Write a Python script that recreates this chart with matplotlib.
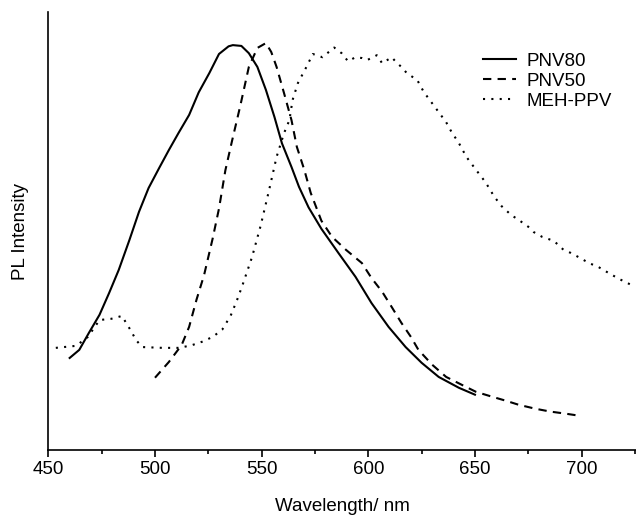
"""
PL spectra of PNV80, PNV50 and MEH-PPV.

- Intensities are read off the published figure (arbitrary units,
  PNV80 peak set to 1.0)
- Saves the figure as out.png
"""

import matplotlib

matplotlib.use("Agg")
import matplotlib.pyplot as plt
from matplotlib.ticker import MultipleLocator

# PNV80 (solid)
pnv80_wl = [460, 464.5, 469, 474, 478.5, 483, 488, 492.5, 497, 502, 506.5, 511,
            516, 520.5, 525.5, 530, 534.5, 536.5, 540.5, 544, 548, 552, 556,
            559.5, 564, 567.5, 572, 578, 586, 594, 601.5, 609.5, 617.5, 625,
            633, 642.5, 650]
pnv80_int = [0.225, 0.245, 0.287, 0.332, 0.386, 0.443, 0.517, 0.587, 0.646,
             0.696, 0.740, 0.782, 0.827, 0.883, 0.931, 0.978, 0.997, 1.0,
             0.998, 0.98, 0.946, 0.889, 0.822, 0.757, 0.698, 0.649, 0.598,
             0.545, 0.485, 0.426, 0.361, 0.302, 0.252, 0.213, 0.178, 0.151,
             0.134]

# PNV50 (dashed)
pnv50_wl = [500, 506.5, 512.5, 516, 519.5, 523, 527, 530, 533, 536, 540, 544,
            548, 552, 554.5, 557, 560.5, 564, 566.5, 570, 573, 578, 583, 589.5,
            597, 601.5, 606.5, 611, 615.5, 620, 623.5, 630, 636.5, 644, 650.5,
            658, 664.5, 670.5, 678.5, 685.5, 692.5, 700]
pnv50_int = [0.176, 0.215, 0.257, 0.302, 0.37, 0.43, 0.52, 0.595, 0.69, 0.76,
             0.85, 0.946, 0.993, 1.005, 0.983, 0.946, 0.881, 0.814, 0.748,
             0.691, 0.634, 0.565, 0.525, 0.493, 0.460, 0.423, 0.389, 0.351,
             0.312, 0.277, 0.245, 0.208, 0.178, 0.158, 0.141, 0.129, 0.119,
             0.109, 0.099, 0.092, 0.087, 0.081]

# MEH-PPV (dotted)
meh_wl = [453.5, 463, 468.5, 474, 479.5, 484.5, 489, 491, 494, 503.5, 511.5,
          517.5, 522, 527, 531.5, 535.5, 538.5, 541, 545.5, 549.5, 553.5, 557,
          560.5, 563, 564.5, 567, 571, 574, 578.5, 584, 587.5, 590.5, 594, 597,
          599.5, 604, 606.5, 611, 613, 615.5, 618, 623, 626, 629.5, 633, 636.5,
          639, 642.5, 646, 650.5, 655, 659, 662.5, 667, 670.5, 675, 677.5,
          681.5, 687, 691.5, 695, 698.5, 703.5, 708, 712.5, 717.5, 724]
meh_int = [0.250, 0.255, 0.277, 0.319, 0.322, 0.329, 0.290, 0.270, 0.252,
           0.250, 0.250, 0.257, 0.265, 0.277, 0.295, 0.330, 0.369, 0.405,
           0.475, 0.552, 0.641, 0.723, 0.782, 0.814, 0.864, 0.906, 0.946,
           0.978, 0.970, 0.994, 0.980, 0.960, 0.970, 0.968, 0.963, 0.975,
           0.955, 0.970, 0.958, 0.946, 0.931, 0.913, 0.884, 0.859, 0.834,
           0.809, 0.785, 0.757, 0.723, 0.691, 0.660, 0.625, 0.601, 0.579,
           0.567, 0.550, 0.537, 0.525, 0.515, 0.493, 0.485, 0.475, 0.460,
           0.450, 0.436, 0.421, 0.404]

plt.rcParams["font.family"] = ["Liberation Sans", "DejaVu Sans"]


def make_plot():
    fig = plt.figure(figsize=(6.36, 5.18), dpi=100)
    ax = fig.add_axes([0.076, 0.1313, 0.924, 0.8455])

    ax.plot(pnv80_wl, pnv80_int, color="black", lw=1.5, ls="-", label="PNV80")
    ax.plot(pnv50_wl, pnv50_int, color="black", lw=1.5, ls=(0, (4, 3)),
            label="PNV50")
    ax.plot(meh_wl, meh_int, color="black", lw=1.5, ls=(0, (1, 3)),
            label="MEH-PPV")

    ax.set_xlim(450, 725.5)
    ax.set_ylim(-0.003, 1.082)

    ax.spines["top"].set_visible(False)
    ax.spines["right"].set_visible(False)
    ax.spines["left"].set_linewidth(1.2)
    ax.spines["bottom"].set_linewidth(1.2)

    ax.xaxis.set_major_locator(MultipleLocator(50))
    ax.xaxis.set_minor_locator(MultipleLocator(25))
    ax.tick_params(axis="x", which="major", direction="out", length=5,
                   width=1.2, labelsize=13.5, pad=3)
    ax.tick_params(axis="x", which="minor", direction="out", length=3,
                   width=1.2)
    ax.set_yticks([])

    ax.set_xlabel("Wavelength/ nm", fontsize=13.5, labelpad=14)
    ax.set_ylabel("PL Intensity", fontsize=13.5, labelpad=14)

    ax.legend(loc="upper left", bbox_to_anchor=(0.759, 0.898),
              bbox_transform=fig.transFigure, frameon=False, fontsize=13.5,
              handlelength=1.8, handletextpad=0.55, labelspacing=0.15,
              borderpad=0, borderaxespad=0)

    fig.savefig("out.png", dpi=100)
    plt.close(fig)


if __name__ == "__main__":
    make_plot()
